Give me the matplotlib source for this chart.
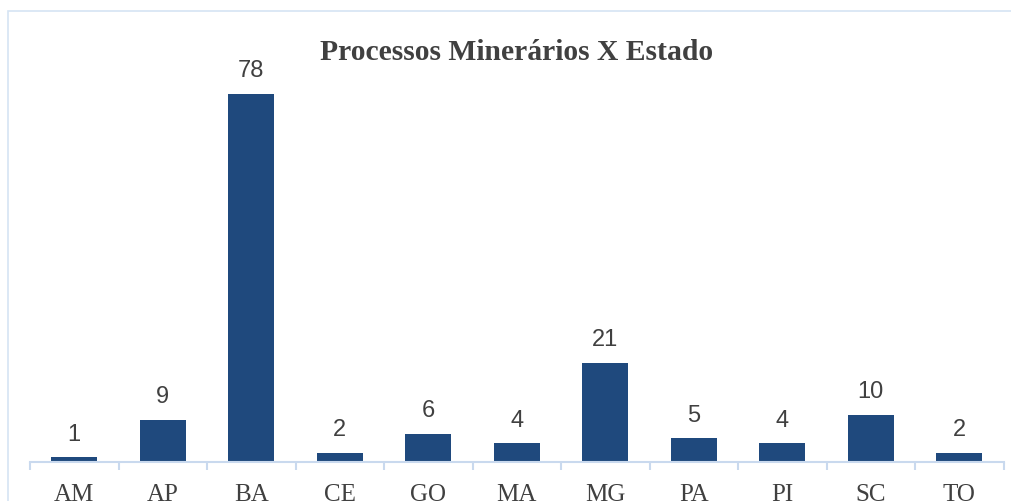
import matplotlib
matplotlib.use('Agg')
import matplotlib.pyplot as plt
from matplotlib.patches import Rectangle

# Processos minerários por estado
estados = ['AM', 'AP', 'BA', 'CE', 'GO', 'MA', 'MG', 'PA', 'PI', 'SC', 'TO']
processos = [1, 9, 78, 2, 6, 4, 21, 5, 4, 10, 2]

COR_BARRA = '#1f497d'
COR_TEXTO = '#404040'
COR_EIXO = '#c9d9ee'

W, H = 1011, 502
fig = plt.figure(figsize=(W / 100, H / 100), dpi=100)

# borda do gráfico (cortada à direita e embaixo)
fig.patches.append(Rectangle((8 / W, -0.1), 1.2, 1 - 12 / H + 0.1,
                             transform=fig.transFigure, fill=False,
                             edgecolor='#d6e4f3', lw=1.2))

ax = fig.add_axes([30 / W, 39 / H, (1003.5 - 30) / W, 425 / H])
x = range(len(estados))
ax.bar(x, processos, width=0.52, color=COR_BARRA, zorder=2)
ax.set_xlim(-0.5, len(estados) - 0.5)
ax.set_ylim(0, 90)

for xi, v in zip(x, processos):
    ax.annotate(str(v), (xi, v), xytext=(0, 12.5), textcoords='offset points',
                ha='center', va='baseline', fontsize=17,
                family='Liberation Sans', color=COR_TEXTO)

for s in ['top', 'right', 'left']:
    ax.spines[s].set_visible(False)
ax.spines['bottom'].set_color(COR_EIXO)
ax.spines['bottom'].set_linewidth(1.5)
ax.set_yticks([])
ax.set_xticks([i - 0.5 for i in range(len(estados) + 1)], minor=False)
ax.set_xticklabels([])
ax.set_xticks(list(x), minor=True)
ax.set_xticklabels(estados, minor=True, family='Liberation Serif',
                   fontsize=18, color=COR_TEXTO)
ax.tick_params(axis='x', which='major', length=6, width=1.5, color=COR_EIXO)
ax.tick_params(axis='x', which='minor', length=0, pad=15)

fig.text(517 / W, 1 - 52 / H, 'Processos Minerários X Estado',
         ha='center', va='center', fontsize=21.3, fontweight='bold',
         family='Liberation Serif', color=COR_TEXTO)

fig.savefig('out.png', dpi=100)
